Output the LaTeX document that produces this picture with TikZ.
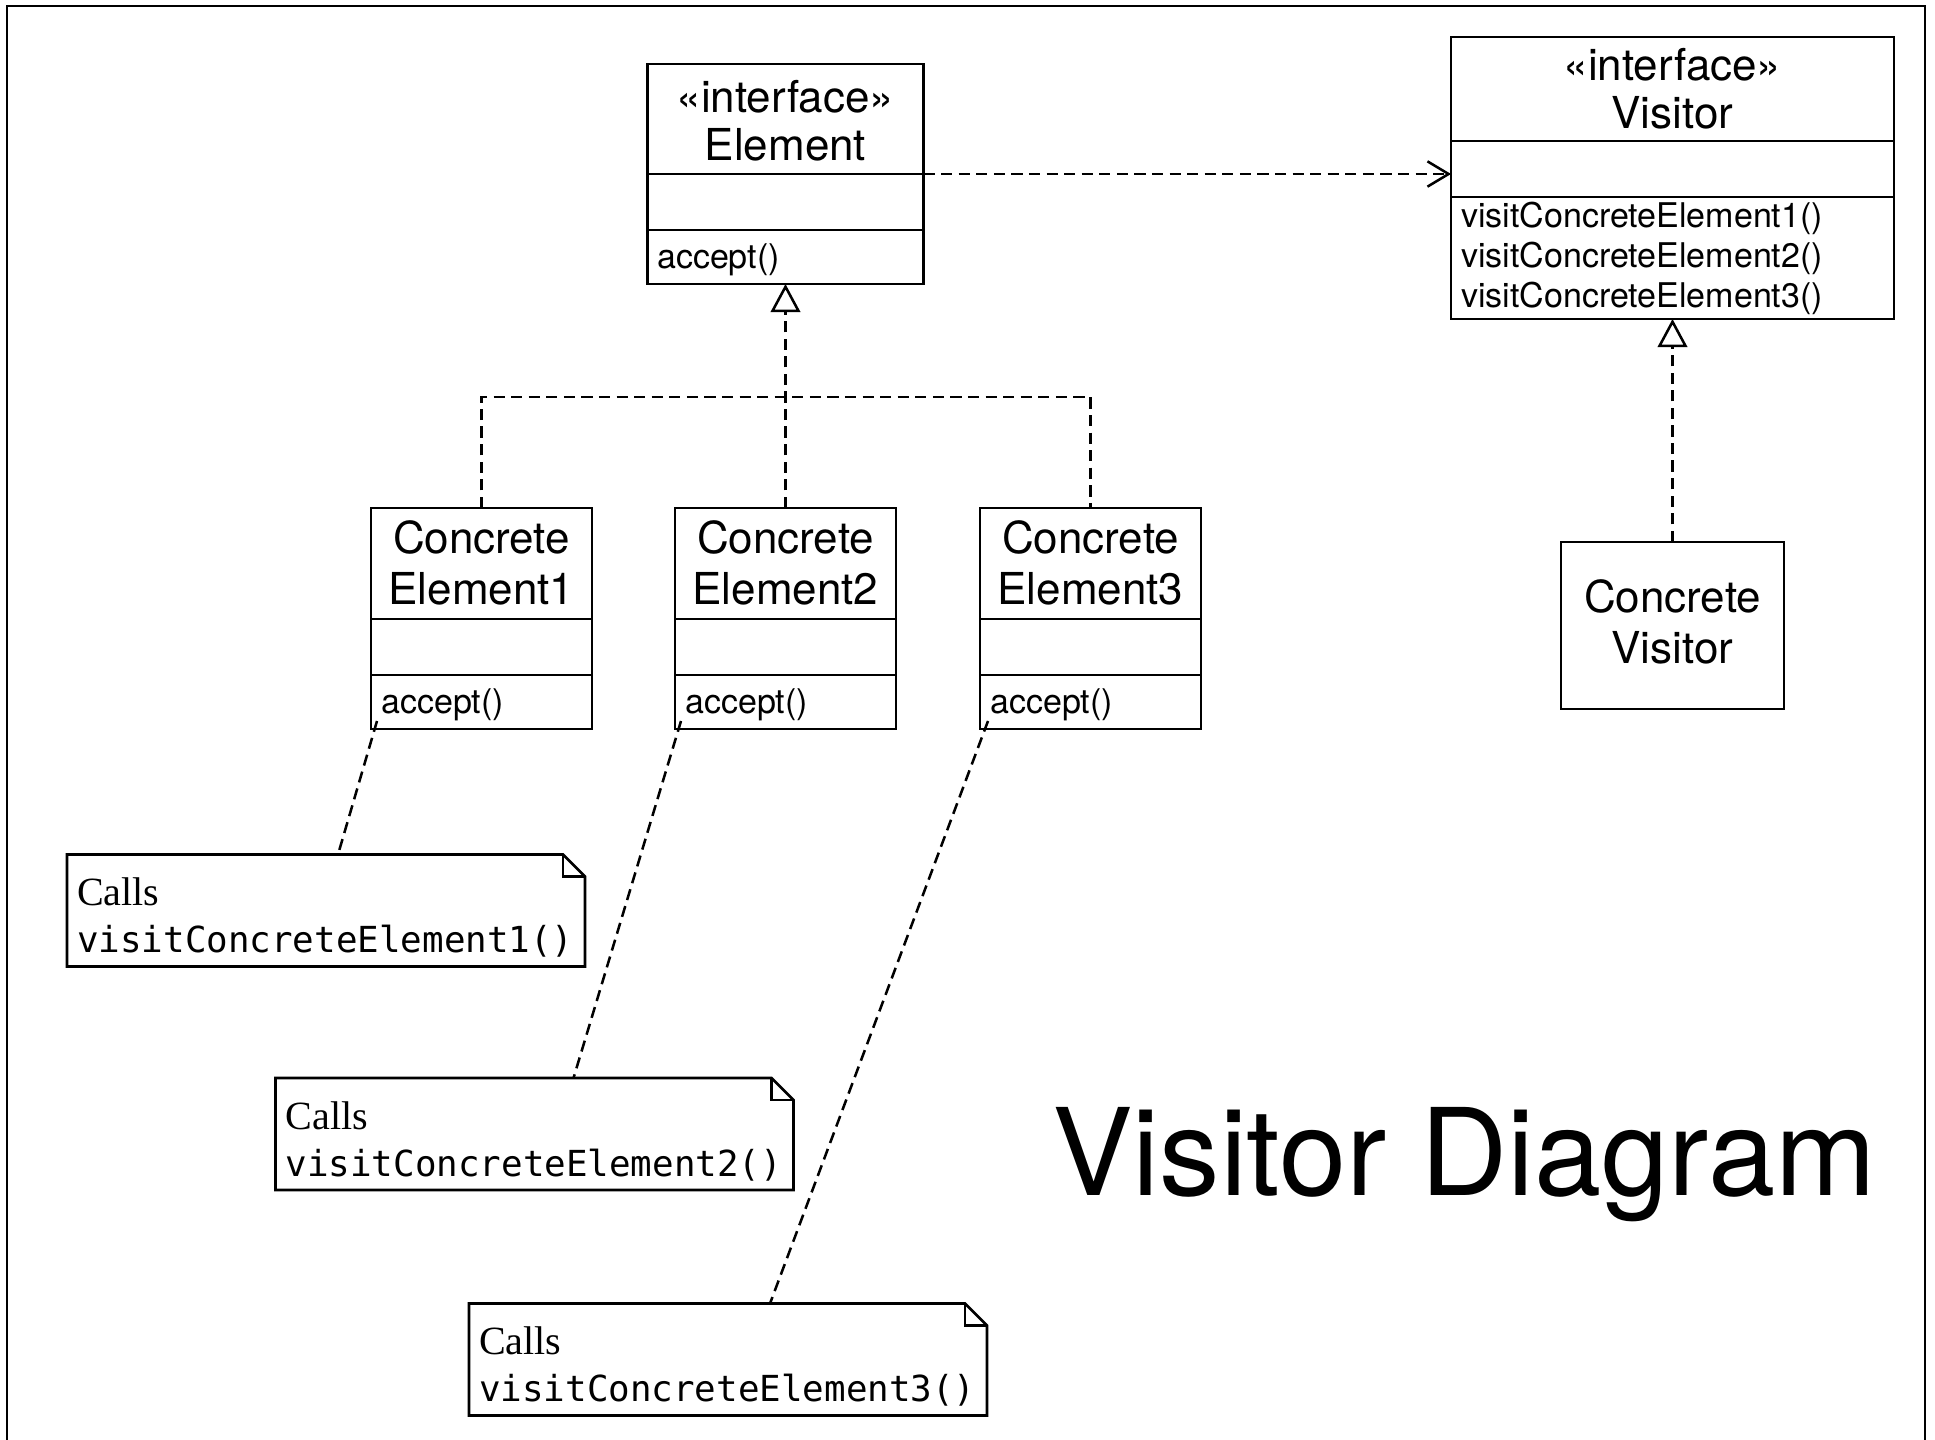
\documentclass[tikz,border=0pt]{standalone}
\usepackage{fontspec}
\setsansfont{TeX Gyre Heros}
\newfontfamily\monofnt{DejaVu Sans Mono}
\newfontfamily\callfnt{Liberation Serif}
\usetikzlibrary{arrows.meta,calc}

\tikzset{
  box/.style={draw, line width=3.8pt, inner sep=0pt, outer sep=0pt},
  ghost/.style={draw=none, inner sep=0pt, outer sep=0pt},
  hdr/.style={font=\sffamily\fontsize{62.6}{70}\selectfont, inner sep=0pt, anchor=base},
  mth/.style={font=\sffamily\fontsize{48.4}{56}\selectfont, inner sep=0pt, anchor=base west},
  callsty/.style={font=\callfnt\fontsize{57}{62}\selectfont, inner sep=0pt, anchor=base west},
  monosty/.style={font=\monofnt\fontsize{51}{58}\selectfont, inner sep=0pt, anchor=base west},
  dline/.style={line width=3.6pt, dash pattern=on 16pt off 9pt},
  divl/.style={line width=3.8pt},
  realize/.style={dline, -{Triangle[open, length=40pt, width=42pt]}},
  depend/.style={dline, -{Straight Barb[length=30pt, width=36pt]}},
}

\begin{document}
\begin{tikzpicture}[x=0.05cm, y=-0.05cm]
\useasboundingbox (0,0) rectangle (1935,1439);
\fill[white] (0,0) rectangle (1935,1439);
% frame
\draw[line width=3.4pt] (7,1445) -- (7,6) -- (1925,6) -- (1925,1445);

% Element interface
\node[box, minimum width=13.8cm, minimum height=11cm] (element) at (785.5,174) {};
\draw[divl] ($(element.north west)+(0,110)$) -- ($(element.north east)+(0,110)$);
\draw[divl] ($(element.north west)+(0,166)$) -- ($(element.north east)+(0,166)$);
\node[hdr] (elst) at (785.5,112) {«interface»};
\node[hdr] (elnm) at (785.5,160) {Element};
\node[mth] (elacc) at (657,268) {accept()};

% Visitor interface
\node[box, minimum width=22.15cm, minimum height=14.1cm] (visitor) at (1672.5,178) {};
\draw[divl] ($(visitor.north west)+(0,104)$) -- ($(visitor.north east)+(0,104)$);
\draw[divl] ($(visitor.north west)+(0,160)$) -- ($(visitor.north east)+(0,160)$);
\node[hdr] (vist) at (1672.5,80) {«interface»};
\node[hdr] (vinm) at (1672.5,128) {Visitor};
\node[mth] (vm1) at (1461,227) {visitConcreteElement1()};
\node[mth] (vm2) at (1461,267) {visitConcreteElement2()};
\node[mth] (vm3) at (1461,307) {visitConcreteElement3()};

% Concrete elements
\foreach \i/\cx in {1/481.5, 2/785.5, 3/1090.5}{
  \node[box, minimum width=11.05cm, minimum height=11.05cm] (ce\i) at (\cx,618.5) {};
  \draw[divl] ($(ce\i.north west)+(0,111)$) -- ($(ce\i.north east)+(0,111)$);
  \draw[divl] ($(ce\i.north west)+(0,167)$) -- ($(ce\i.north east)+(0,167)$);
  \node[hdr] (ce\i a) at (\cx,553) {Concrete};
  \node[hdr] (ce\i b) at (\cx,604) {Element\i};
  \node[mth] (ce\i c) at ($(ce\i.south west)+(10,-16)$) {accept()};
}

% Concrete visitor
\node[box, minimum width=11.15cm, minimum height=8.35cm] (cv) at (1672.5,625.5) {};
\node[hdr] (cva) at (1672.5,612) {Concrete};
\node[hdr] (cvb) at (1672.5,663) {Visitor};

% Notes
\foreach \i/\nx/\ny in {1/326/910.5, 2/534.5/1134, 3/728/1359.5}{
  \node[ghost, minimum width=25.9cm, minimum height=5.6cm] (note\i) at (\nx,\ny) {};
  \draw[box, line join=miter] (note\i.north west) -- ($(note\i.north east)+(-22,0)$)
     -- ($(note\i.north east)+(0,22)$) -- (note\i.south east) -- (note\i.south west) -- cycle;
  \draw[line width=3pt] ($(note\i.north east)+(-22,0)$) -- ($(note\i.north east)+(-22,22)$)
     -- ($(note\i.north east)+(0,22)$);
  \node[callsty] (note\i a) at ($(note\i.north west)+(10,51)$) {Calls};
  \node[monosty] (note\i b) at ($(note\i.north west)+(10,98)$) {visitConcreteElement\i()};
}

% realization of Element
\coordinate (bus) at (785.5,397);
\draw[dline] (ce1.north) |- (bus) -| (ce3.north);
\draw[realize] (ce2.north) -- (element.south);

% realization of Visitor
\draw[realize] (cv.north) -- (visitor.south);

% dependency Element -> Visitor
\draw[depend] (element.east) -- (element.east -| visitor.west);

% note connectors
\draw[dline] ($(ce1.south west)+(6,-8)$) -- ($(note1.north west)+(271,0)$);
\draw[dline] ($(ce2.south west)+(6,-8)$) -- ($(note2.north west)+(298,0)$);
\draw[dline] ($(ce3.south west)+(8,-8)$) -- ($(note3.north west)+(301,0)$);

% title
\node[font=\sffamily\fontsize{172}{180}\selectfont, inner sep=0pt, anchor=base west] (title) at (1052,1195) {Visitor Diagram};
\end{tikzpicture}
\end{document}
